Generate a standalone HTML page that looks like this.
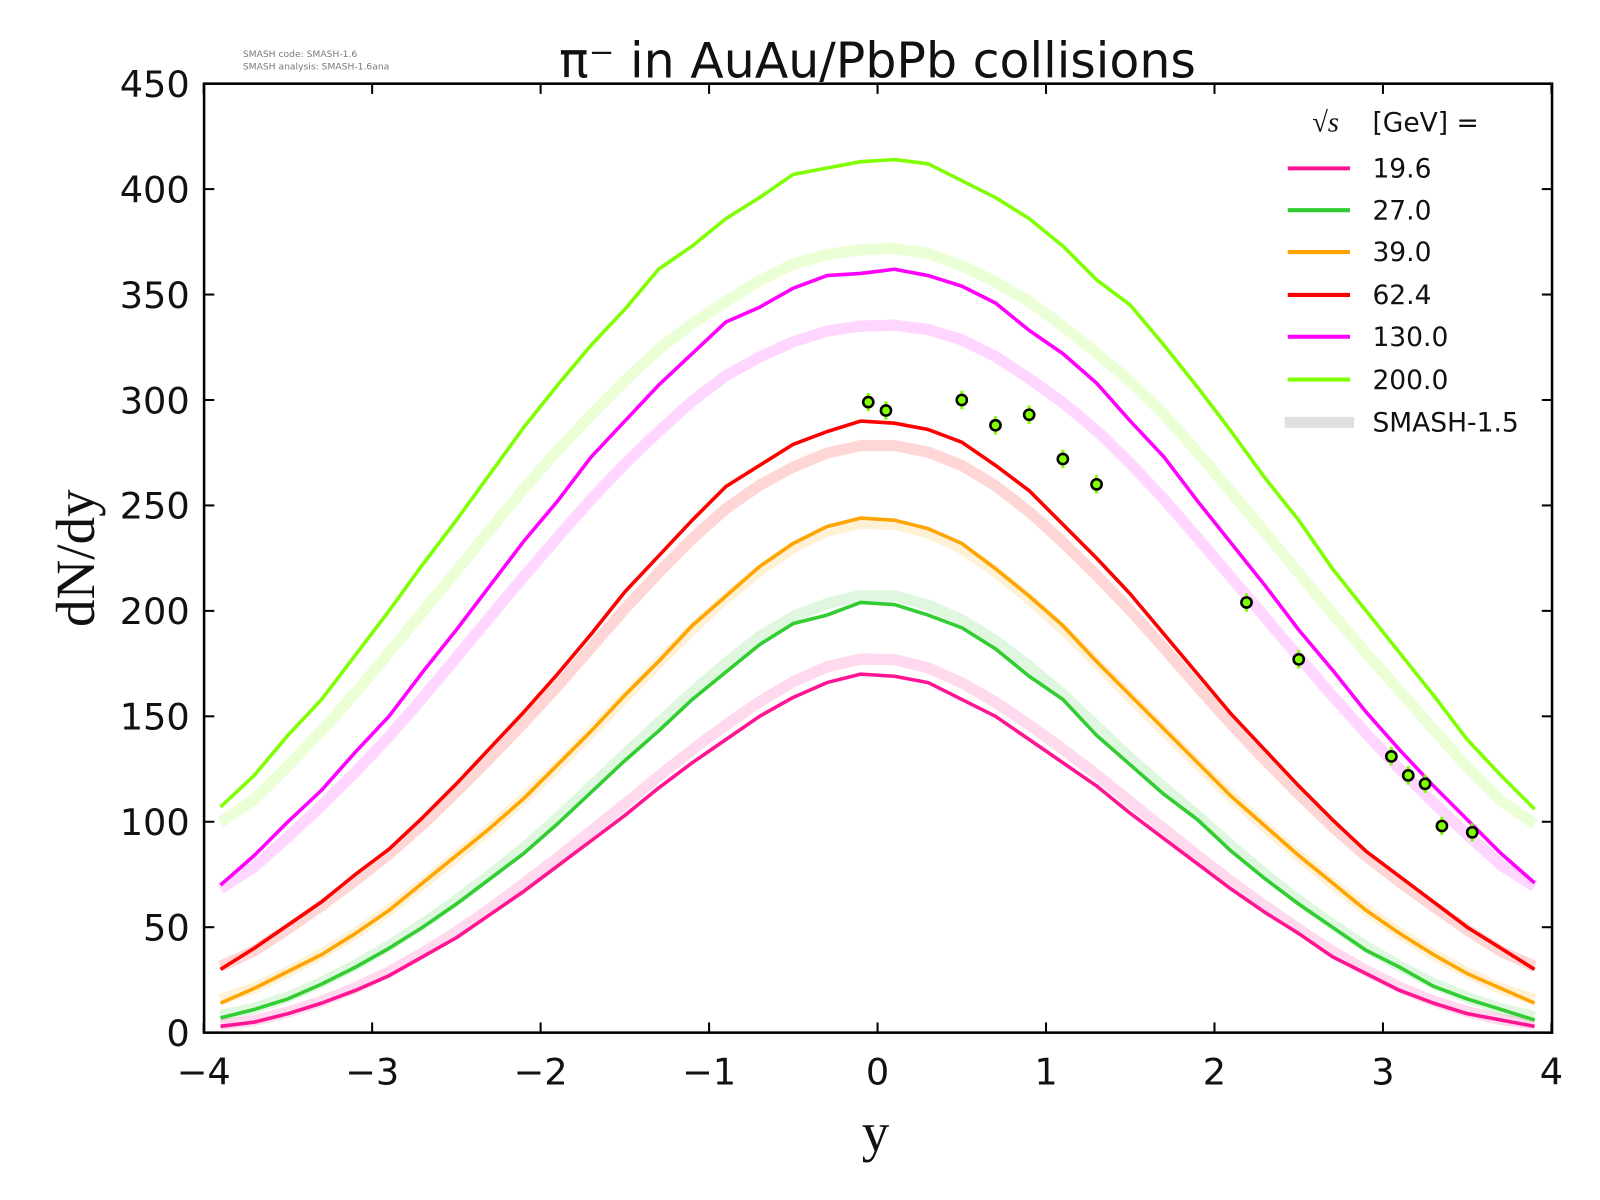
<!DOCTYPE html>
<html><head><meta charset="utf-8"><style>
html,body{margin:0;padding:0;background:#fff;overflow:hidden;width:1600px;height:1200px}
svg{display:block}
svg text{font-family:"DejaVu Sans","Liberation Sans",sans-serif;fill:#111}
</style></head><body>
<svg id="s" width="1600" height="1200" viewBox="0 0 1568 1176" xmlns="http://www.w3.org/2000/svg">
<rect width="1568" height="1176" fill="#fff"/>
<g id="bands"></g><g id="lines"></g><g id="pts"></g>
<rect x="200" y="82" width="1321" height="930" fill="none" stroke="#000" stroke-width="2.5"/>
<g id="ticks" stroke="#000" stroke-width="2"></g>
<g id="labels" font-size="36"></g>
<text x="860" y="76" font-size="48" text-anchor="middle">π⁻ in AuAu/PbPb collisions</text>
<text x="238" y="56" font-size="9" style="fill:#777">SMASH code:      SMASH-1.6</text>
<text x="238" y="68" font-size="9" style="fill:#777">SMASH analysis: SMASH-1.6ana</text>
<text x="858" y="1128" font-size="54" text-anchor="middle" style="font-family:'Liberation Serif',serif">y</text>
<text transform="translate(92,547) rotate(-90)" font-size="54" text-anchor="middle" style="font-family:'Liberation Serif',serif">dN/dy</text>
<g font-size="26">
<text x="1286" y="129" font-size="28" style="font-family:'Liberation Serif',serif;font-style:italic">√s</text>
<text x="1345" y="129">[GeV] =</text>
<line x1="1262" y1="165" x2="1323" y2="165" stroke="#ff1493" stroke-width="4"/><text x="1345" y="174">19.6</text>
<line x1="1262" y1="206" x2="1323" y2="206" stroke="#32cd32" stroke-width="4"/><text x="1345" y="215">27.0</text>
<line x1="1262" y1="247" x2="1323" y2="247" stroke="#ffa500" stroke-width="4"/><text x="1345" y="256">39.0</text>
<line x1="1262" y1="289" x2="1323" y2="289" stroke="#ff0000" stroke-width="4"/><text x="1345" y="298">62.4</text>
<line x1="1262" y1="330" x2="1323" y2="330" stroke="#ff00ff" stroke-width="4"/><text x="1345" y="339">130.0</text>
<line x1="1262" y1="372" x2="1323" y2="372" stroke="#7fff00" stroke-width="4"/><text x="1345" y="381">200.0</text>
<line x1="1259" y1="414" x2="1327" y2="414" stroke="#e0e0e0" stroke-width="11"/><text x="1345" y="423">SMASH-1.5</text>
</g>
</svg>
<script>
const X=v=>860+v*165.1, Y=v=>1012-v*2.0667;
const xs=[];for(let i=0;i<40;i++)xs.push(-3.9+0.2*i);
const D={
"#ff1493":[[3,5,9,14,20,27,36,45,56,67,79,91,103,116,128,139,150,159,166,170,169,166,158,150,139,128,117,104,92,80,68,57,47,36,28,20,14,9,6,3],1.05],
"#32cd32":[[7,11,16,23,31,40,50,61,73,85,99,114,129,143,158,171,184,194,198,204,203,198,192,182,169,158,141,127,113,101,86,73,61,50,39,31,22,16,11,6],1.025],
"#ffa500":[[14,21,29,37,47,58,71,84,97,111,127,143,160,176,193,207,221,232,240,244,243,239,232,220,207,193,176,160,144,128,112,98,84,71,58,47,37,28,21,14],0.995],
"#ff0000":[[30,40,51,62,75,87,102,118,135,152,170,189,209,226,243,259,269,279,285,290,289,286,280,269,257,241,225,208,189,170,151,134,117,101,86,74,62,50,40,30],0.965],
"#ff00ff":[[70,84,100,115,133,150,171,191,212,233,252,273,290,307,322,337,344,353,359,360,362,359,354,346,333,322,308,290,273,252,232,212,191,172,152,134,117,101,85,71],0.93],
"#7fff00":[[107,122,141,158,179,200,222,243,265,287,307,326,343,362,373,386,396,407,410,413,414,412,404,396,386,373,357,345,326,306,285,263,243,220,200,180,160,139,122,106],0.9]};
const ns="http://www.w3.org/2000/svg";
function el(p,t,a){const e=document.createElementNS(ns,t);for(const k in a)e.setAttribute(k,a[k]);document.getElementById(p).appendChild(e);return e;}
for(const c in D){const [v,s]=D[c];
 const smooth=v.map((y,i)=>{const a=v[Math.max(0,i-1)],b=v[Math.min(v.length-1,i+1)];return (a+2*y+b)/4*s;});
 el("bands","polyline",{points:xs.map((x,i)=>X(x)+","+Y(smooth[i])).join(" "),fill:"none",stroke:c,"stroke-width":11,"stroke-opacity":0.16,"stroke-linejoin":"round"});
 el("lines","polyline",{points:xs.map((x,i)=>X(x)+","+Y(v[i])).join(" "),fill:"none",stroke:c,"stroke-width":3.5,"stroke-linejoin":"round"});}
[[-0.055,299],[0.05,295],[0.5,300],[0.7,288],[0.9,293],[1.1,272],[1.3,260],[2.19,204],[2.5,177],[3.05,131],[3.15,122],[3.25,118],[3.35,98],[3.53,95]].forEach(([x,y])=>{
 el("pts","line",{x1:X(x),x2:X(x),y1:Y(y)-9,y2:Y(y)+9,stroke:"#7fff00","stroke-width":3});
 el("pts","circle",{cx:X(x),cy:Y(y),r:5,fill:"#7fff00",stroke:"#000","stroke-width":2.5});});
for(let v=-4;v<=4;v++){const x=X(v);
 el("ticks","line",{x1:x,x2:x,y1:1012,y2:1002});el("ticks","line",{x1:x,x2:x,y1:82,y2:92});
 const t=el("labels","text",{x:x,y:1063,"text-anchor":"middle"});t.textContent=(v<0?"−":"")+Math.abs(v);}
for(let v=0;v<=450;v+=50){const y=Y(v);
 el("ticks","line",{x1:200,x2:210,y1:y,y2:y});el("ticks","line",{x1:1521,x2:1511,y1:y,y2:y});
 const t=el("labels","text",{x:186,y:y+13,"text-anchor":"end"});t.textContent=v;}
</script>
</body></html>
